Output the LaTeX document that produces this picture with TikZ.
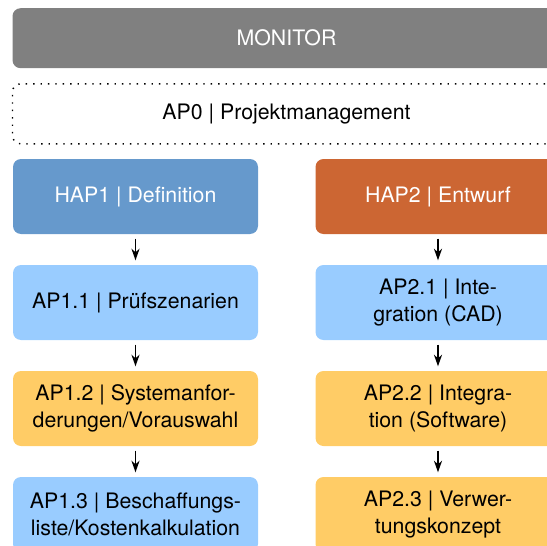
\documentclass[tikz,border=0pt]{standalone}
\usepackage{fontspec}
\setmainfont{TeX Gyre Heros}
\usetikzlibrary{arrows.meta}

\definecolor{monitorgray}{RGB}{128,128,128}
\definecolor{hapblue}{RGB}{102,153,204}
\definecolor{haporange}{RGB}{204,102,51}
\definecolor{aplightblue}{RGB}{153,204,255}
\definecolor{apyellow}{RGB}{255,204,102}

\tikzset{
  x=1pt, y=1pt,
  boxbase/.style={rounded corners=8pt, align=center, inner sep=0pt,
    font=\fontsize{21.3}{26.6}\selectfont},
  colbox/.style={boxbase, minimum width=245pt, minimum height=75pt},
  hapbox/.style={colbox, fill=#1, text=white},
  apbox/.style={colbox, fill=#1, text=black},
  flow/.style={-{Stealth[length=11.5pt,width=8pt,inset=3.5pt]}, line width=1.7pt,
    shorten <=4.5pt, shorten >=4.5pt},
}

\begin{document}
\begin{tikzpicture}
\useasboundingbox (0,0) rectangle (547,-546);
\clip (0,0) rectangle (547,-546);

% overall header and project management bar
\node[boxbase, fill=monitorgray, text=white, minimum width=548pt,
      minimum height=60pt] (monitor) at (286.5,-38.2) {MONITOR};
\node[boxbase, draw=black, line width=1.4pt, dash pattern=on 1.4pt off 6pt,
      minimum width=548pt, minimum height=60pt] (ap0) at (286.5,-113.8)
      {AP0 | Projektmanagement};

% column 1: definition
\node[hapbox=hapblue] (hap1) at (135.5,-196.5) {HAP1 | Definition};
\node[apbox=aplightblue] (ap11) at (135.5,-302.5) {AP1.1 | Prüfszenarien};
\node[apbox=apyellow] (ap12) at (135.5,-408.5)
      {AP1.2 | Systemanfor-\\derungen/Vorauswahl};
\node[apbox=aplightblue] (ap13) at (135.5,-514.5)
      {AP1.3 | Beschaffungs-\\liste/Kostenkalkulation};

% column 2: design
\node[hapbox=haporange] (hap2) at (438,-196.5) {HAP2 | Entwurf};
\node[apbox=aplightblue] (ap21) at (438,-302.5) {AP2.1 | Inte-\\gration (CAD)};
\node[apbox=apyellow] (ap22) at (438,-408.5) {AP2.2 | Integra-\\tion (Software)};
\node[apbox=apyellow] (ap23) at (438,-514.5) {AP2.3 | Verwer-\\tungskonzept};

% sequence arrows
\draw[flow] (hap1) -- (ap11);
\draw[flow] (ap11) -- (ap12);
\draw[flow] (ap12) -- (ap13);
\draw[flow] (hap2) -- (ap21);
\draw[flow] (ap21) -- (ap22);
\draw[flow] (ap22) -- (ap23);
\end{tikzpicture}
\end{document}
